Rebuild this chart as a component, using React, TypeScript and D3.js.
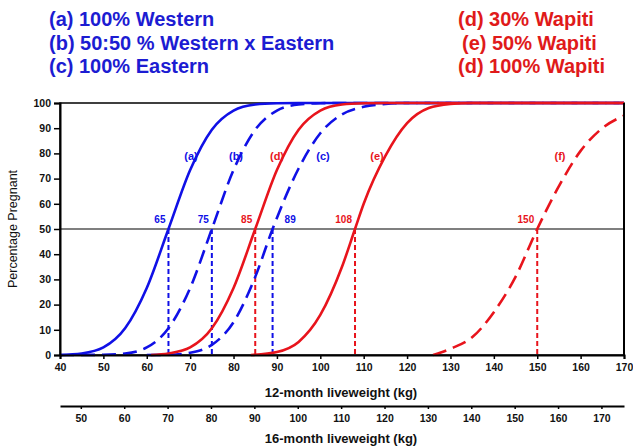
import React, { useEffect, useRef } from "react";
import * as d3 from "d3";

// ---------- data ----------
const seriesA: [number, number][] = [[40, 0], [45, 0.6], [50, 3], [55, 10.6], [60, 26.6], [65, 50], [70, 73.4], [75, 89.4], [80, 97], [85, 99.4], [90, 99.9], [95, 100], [170, 100]];
const seriesB: [number, number][] = [[40, 0], [50, 0.1], [55, 0.6], [60, 3], [65, 10.6], [70, 26.6], [75, 50], [80, 73.4], [85, 89.4], [90, 97], [95, 99.4], [100, 99.9], [105, 100], [170, 100]];
const seriesC: [number, number][] = [[60, 0], [65, 0.1], [70, 0.9], [75, 4], [80, 13], [85, 31], [89, 50], [95, 74], [100, 88], [105, 95.5], [110, 98.5], [115, 99.6], [120, 100], [170, 100]];
const seriesD: [number, number][] = [[61, 0], [65, 0.6], [70, 3], [75, 10.6], [80, 26.6], [85, 50], [90, 73.4], [95, 89.4], [100, 97], [105, 99.4], [110, 99.9], [115, 100], [170, 100]];
const seriesE: [number, number][] = [[84, 0], [90, 1.2], [95, 5.2], [100, 15.9], [105, 35], [108, 50], [110, 60], [115, 79], [120, 92], [125, 98], [130, 99.6], [135, 100], [170, 100]];
const seriesF: [number, number][] = [[126, 0], [130, 2.5], [135, 7], [140, 17], [145, 31], [150, 50], [155, 67], [160, 81], [165, 90], [170, 95]];

const curveLabels = ["(a)", "(b)", "(c)", "(d)", "(e)", "(f)"];
const midpoints = [65, 75, 89, 85, 108, 150];

const legendBlue = ["(a) 100% Western", "(b) 50:50 % Western x Eastern", "(c) 100% Eastern"];
const legendRed = ["(d) 30% Wapiti", "(e) 50% Wapiti", "(d) 100% Wapiti"];

const yTicks = [0, 10, 20, 30, 40, 50, 60, 70, 80, 90, 100];
const x12Ticks = [40, 50, 60, 70, 80, 90, 100, 110, 120, 130, 140, 150, 160, 170];
const x16Ticks = [50, 60, 70, 80, 90, 100, 110, 120, 130, 140, 150, 160, 170];

const BLUE = "#1010e6";
const RED = "#e8141c";
const LBLUE = "#1c1cd2";
const LRED = "#e01a1a";
const FONT = "'Liberation Sans', Arial, sans-serif";

export default function App() {
  const ref = useRef<SVGSVGElement | null>(null);

  useEffect(() => {
    const svg = d3.select(ref.current);
    svg.selectAll("*").remove();

    const L = 60, R = 624, T = 103, B = 355;
    const x = d3.scaleLinear().domain([40, 170]).range([L, R]);
    const x16 = d3.scaleLinear().domain([45.2, 175.2]).range([L, R]);
    const y = d3.scaleLinear().domain([0, 100]).range([B, T]);

    // legend
    const lg = svg.append("g").attr("font-family", FONT).attr("font-weight", "bold").attr("font-size", 20);
    legendBlue.forEach((t, i) => {
      lg.append("text").attr("x", 49).attr("y", 26 + i * 23.5).attr("fill", LBLUE).text(t);
    });
    legendRed.forEach((t, i) => {
      lg.append("text").attr("x", i === 1 ? 462 : 458).attr("y", 26 + i * 23.5).attr("fill", LRED).text(t);
    });

    // frame
    svg.append("rect").attr("x", L).attr("y", T).attr("width", R - L).attr("height", B - T)
      .attr("fill", "none").attr("stroke", "#000").attr("stroke-width", 1.5);

    // 50% line
    svg.append("line").attr("x1", L).attr("x2", R).attr("y1", y(50)).attr("y2", y(50))
      .attr("stroke", "#000").attr("stroke-width", 1.2);

    // drop lines
    const dropColors = [BLUE, BLUE, BLUE, RED, RED, RED];
    midpoints.forEach((m, i) => {
      svg.append("line").attr("x1", x(m)).attr("x2", x(m)).attr("y1", y(50)).attr("y2", y(0))
        .attr("stroke", dropColors[i]).attr("stroke-width", 2).attr("stroke-dasharray", "5,3");
    });

    // curves
    const line = d3.line<[number, number]>().x(d => x(d[0])).y(d => y(d[1])).curve(d3.curveMonotoneX);
    const curves: { data: [number, number][]; color: string; dash: string | null }[] = [
      { data: seriesA, color: BLUE, dash: null },
      { data: seriesB, color: BLUE, dash: "14,7" },
      { data: seriesC, color: BLUE, dash: "14,7" },
      { data: seriesD, color: RED, dash: null },
      { data: seriesE, color: RED, dash: null },
      { data: seriesF, color: RED, dash: "14,7" },
    ];
    curves.forEach(c => {
      const p = svg.append("path").attr("d", line(c.data) as string).attr("fill", "none")
        .attr("stroke", c.color).attr("stroke-width", 2.6);
      if (c.dash) p.attr("stroke-dasharray", c.dash);
    });

    // right & left & bottom axis lines over curves
    svg.append("line").attr("x1", R).attr("x2", R).attr("y1", T).attr("y2", B).attr("stroke", "#000").attr("stroke-width", 2);

    // y axis
    const ya = svg.append("g").attr("transform", `translate(${L},0)`)
      .call(d3.axisLeft(y).tickValues(yTicks).tickSize(6).tickPadding(3).tickFormat(d3.format("d")));
    ya.select(".domain").attr("stroke-width", 2);
    ya.selectAll(".tick line").attr("stroke-width", 1.5);
    ya.selectAll("text").attr("font-family", FONT).attr("font-weight", "bold").attr("font-size", 10.5).attr("fill", "#111");

    // x axis 12-month
    const xa = svg.append("g").attr("transform", `translate(0,${B})`)
      .call(d3.axisBottom(x).tickValues(x12Ticks).tickSize(4).tickPadding(5).tickFormat(d3.format("d")));
    xa.select(".domain").attr("stroke-width", 2);
    xa.selectAll(".tick line").attr("stroke-width", 1.5);
    xa.selectAll("text").attr("font-family", FONT).attr("font-weight", "bold").attr("font-size", 10.5).attr("fill", "#111");

    // x axis 16-month
    const xb = svg.append("g").attr("transform", `translate(0,406)`)
      .call(d3.axisBottom(x16).tickValues(x16Ticks).tickSize(3).tickSizeOuter(0).tickPadding(6).tickFormat(d3.format("d")));
    xb.select(".domain").attr("stroke-width", 1.8);
    xb.selectAll(".tick line").attr("stroke-width", 1.5);
    xb.selectAll("text").attr("font-family", FONT).attr("font-weight", "bold").attr("font-size", 10.5).attr("fill", "#111");

    // axis titles
    svg.append("text").attr("x", 341).attr("y", 397).attr("text-anchor", "middle")
      .attr("font-family", FONT).attr("font-weight", "bold").attr("font-size", 13).attr("fill", "#111")
      .text("12-month liveweight (kg)");
    svg.append("text").attr("x", 341).attr("y", 443).attr("text-anchor", "middle")
      .attr("font-family", FONT).attr("font-weight", "bold").attr("font-size", 13).attr("fill", "#111")
      .text("16-month liveweight (kg)");
    svg.append("text").attr("transform", `translate(17,${(T + B) / 2}) rotate(-90)`).attr("text-anchor", "middle")
      .attr("font-family", FONT).attr("font-size", 12.5).attr("fill", "#111")
      .text("Percentage Pregnant");

    // curve labels
    const labelPos: [number, string][] = [[191, BLUE], [236, BLUE], [323, BLUE], [277, RED], [377, RED], [560, RED]];
    curveLabels.forEach((t, i) => {
      svg.append("text").attr("x", labelPos[i][0]).attr("y", 160).attr("text-anchor", "middle")
        .attr("font-family", FONT).attr("font-weight", "bold").attr("font-size", 11).attr("fill", labelPos[i][1]).text(t);
    });

    // midpoint value labels
    midpoints.forEach((m, i) => {
      const right = m === 89;
      svg.append("text").attr("x", right ? x(m) + 12 : x(m) - 3).attr("y", 223)
        .attr("text-anchor", right ? "start" : "end")
        .attr("font-family", FONT).attr("font-weight", "bold").attr("font-size", 10)
        .attr("fill", dropColors[i]).text(String(m));
    });
  }, []);

  return (
    <svg ref={ref} width={633} height={447} style={{ position: "absolute", left: 0, top: 0, background: "#fff" }} />
  );
}
